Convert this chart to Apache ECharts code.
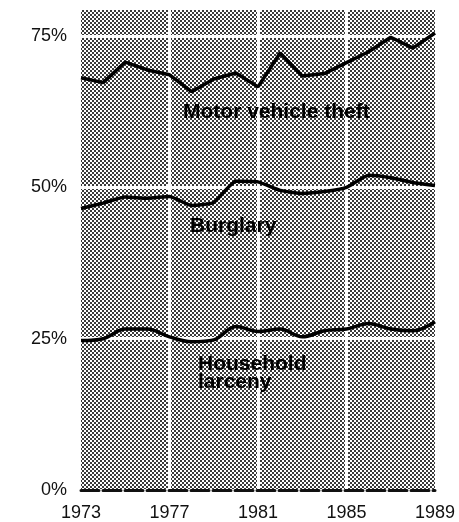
<!DOCTYPE html>
<html><head><meta charset="utf-8">
<script src="https://cdn.jsdelivr.net/npm/echarts@6/dist/echarts.min.js"></script>
<style>html,body{margin:0;padding:0;background:#fff}#c{width:459px;height:522px}</style>
</head><body><div id="c"></div>
<script>
const years = ['1973','1974','1975','1976','1977','1978','1979','1980','1981','1982','1983','1984','1985','1986','1987','1988','1989'];
const motorVehicleTheft = [68.1,67.3,70.7,69.4,68.6,65.8,67.9,68.9,66.6,72.2,68.4,68.8,70.6,72.4,74.8,73.0,75.5];
const burglary = [46.5,47.4,48.4,48.2,48.5,47.0,47.5,51.0,50.9,49.5,49.0,49.3,50.0,52.0,51.6,50.8,50.3];
const householdLarceny = [24.7,25.0,26.6,26.6,25.3,24.5,24.8,27.0,26.2,26.6,25.3,26.3,26.6,27.5,26.6,26.3,27.8];
const yGridValues = [0, 25, 50, 75];
const xGridYears = ['1977','1981','1985'];
const seriesLabels = ['Motor vehicle theft','Burglary','Household','larceny'];

const tile = document.createElement('canvas');
tile.width = 4; tile.height = 4;
const g = tile.getContext('2d');
g.fillStyle = '#ffffff'; g.fillRect(0,0,4,4);
g.fillStyle = '#3a3a3a'; g.fillRect(0,0,2,2); g.fillRect(2,2,2,2);

const chart = echarts.init(document.getElementById('c'), null, {renderer:'canvas'});
const lineStyle = {color:'#000', width:3.5};
const labelFont = 'bold 21px Liberation Sans, Arial, sans-serif';
chart.setOption({
  animation:false,
  backgroundColor:'#fff',
  grid:{left:81, right:24, top:10, bottom:30, show:true, borderWidth:0,
        backgroundColor:{image:tile, repeat:'repeat'}},
  xAxis:{type:'category', data:years, boundaryGap:false, z:6,
    axisLine:{show:true, onZero:false, lineStyle:{color:'#111', width:3, type:[18,4]}},
    axisTick:{show:false}, splitLine:{show:false},
    axisLabel:{interval:3, margin:14, color:'#111', fontSize:18, fontFamily:'Liberation Sans, Arial, sans-serif'}},
  yAxis:{type:'value', min:0, max:79.3, interval:25,
    axisLine:{show:false}, axisTick:{show:false}, splitLine:{show:false},
    axisLabel:{margin:14, color:'#111', fontSize:18, fontFamily:'Liberation Sans, Arial, sans-serif',
      padding:[7,0,0,0],
      formatter:v => (Math.abs(v % 25) < 1e-6 ? v + '%' : '')}},
  series:[
    {type:'line', data:motorVehicleTheft, symbol:'none', lineStyle:lineStyle, z:3,
     markLine:{silent:true, symbol:'none', z:1, label:{show:false},
       lineStyle:{color:'#fff', width:3, type:'solid'},
       data: yGridValues.map(v => ({yAxis:v})).concat(xGridYears.map(y => ({xAxis:y})))}},
    {type:'line', data:burglary, symbol:'none', smooth:0.15, lineStyle:lineStyle, z:3},
    {type:'line', data:householdLarceny, symbol:'none', smooth:0.35, lineStyle:lineStyle, z:3}
  ],
  graphic:[
    {type:'text', x:183, y:112, z:10, style:{text:seriesLabels[0], fill:'#000', font:labelFont, verticalAlign:'middle'}},
    {type:'text', x:190, y:226, z:10, style:{text:seriesLabels[1], fill:'#000', font:labelFont, verticalAlign:'middle'}},
    {type:'text', x:198, y:364, z:10, style:{text:seriesLabels[2], fill:'#000', font:labelFont, verticalAlign:'middle'}},
    {type:'text', x:198, y:382, z:10, style:{text:seriesLabels[3], fill:'#000', font:labelFont, verticalAlign:'middle'}}
  ]
});
</script></body></html>
